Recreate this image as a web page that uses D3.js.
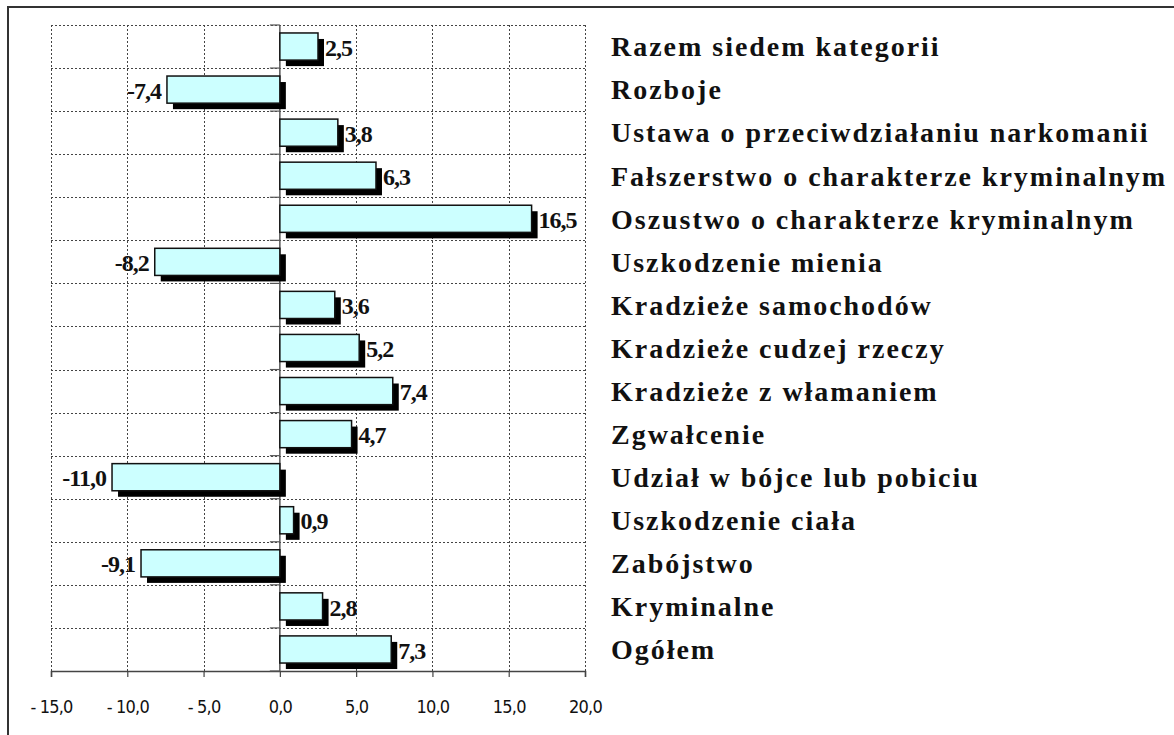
<!DOCTYPE html>
<html>
<head>
<meta charset="utf-8">
<script src="https://cdn.jsdelivr.net/npm/d3@7"></script>
<style>
  html, body { margin: 0; padding: 0; background: #fff; }
  svg { display: block; }
</style>
</head>
<body>
<svg id="chart" width="1174" height="735"></svg>
<script>
const categories = [
  "Razem siedem kategorii",
  "Rozboje",
  "Ustawa o przeciwdziałaniu narkomanii",
  "Fałszerstwo o charakterze kryminalnym",
  "Oszustwo o charakterze kryminalnym",
  "Uszkodzenie mienia",
  "Kradzieże samochodów",
  "Kradzieże cudzej rzeczy",
  "Kradzieże z włamaniem",
  "Zgwałcenie",
  "Udział w bójce lub pobiciu",
  "Uszkodzenie ciała",
  "Zabójstwo",
  "Kryminalne",
  "Ogółem"
];
const values = [2.5, -7.4, 3.8, 6.3, 16.5, -8.2, 3.6, 5.2, 7.4, 4.7, -11.0, 0.9, -9.1, 2.8, 7.3];
const xTicks = [-15, -10, -5, 0, 5, 10, 15, 20];

const svg = d3.select("#chart");
const pLeft = 51, pRight = 585, pTop = 25, pBottom = 671;

// outer border
svg.append("rect")
  .attr("x", 8).attr("y", 7)
  .attr("width", 1300).attr("height", 800)
  .attr("fill", "none").attr("stroke", "#333").attr("stroke-width", 2);

const x = d3.scaleLinear().domain([-15, 20]).range([pLeft, pRight]);
const y = d3.scaleBand().domain(categories).range([pTop, pBottom]).paddingInner(0.37).paddingOuter(0.185);
const yEdge = d3.scaleLinear().domain([0, categories.length]).range([pTop, pBottom]);

const fmt = v => {
  const s = Math.abs(v).toFixed(1).replace(".", ",");
  return v < 0 ? "-" + s : s;
};

// gridlines (dotted)
const grid = svg.append("g");
grid.selectAll("line.v").data(xTicks.filter(t => t !== 0)).join("line")
  .attr("x1", d => Math.round(x(d)) + 0.5).attr("x2", d => Math.round(x(d)) + 0.5)
  .attr("y1", pTop).attr("y2", pBottom)
  .attr("stroke", "#444").attr("stroke-width", 1).attr("stroke-dasharray", "2,2");
grid.selectAll("line.h").data(d3.range(0, categories.length)).join("line")
  .attr("x1", pLeft).attr("x2", pRight)
  .attr("y1", d => Math.round(yEdge(d)) + 0.5).attr("y2", d => Math.round(yEdge(d)) + 0.5)
  .attr("stroke", "#444").attr("stroke-width", 1).attr("stroke-dasharray", "2,2");

// x axis
const xAxis = d3.axisBottom(x).tickValues(xTicks).tickSize(6)
  .tickFormat(d => d < 0 ? "- " + Math.abs(d).toFixed(1).replace(".", ",") : d.toFixed(1).replace(".", ","));
const gx = svg.append("g").attr("transform", `translate(0,${pBottom})`).call(xAxis);
gx.select(".domain").attr("stroke", "#444").attr("stroke-width", 1.5);
gx.selectAll(".tick line").attr("stroke", "#444").attr("stroke-width", 1.2);
gx.selectAll(".tick text")
  .attr("y", 29)
  .attr("font-family", "'DejaVu Sans Condensed', 'DejaVu Sans', sans-serif")
  .attr("font-size", 18).attr("fill", "#111").attr("letter-spacing", -0.8);

// zero axis (category axis)
const zx = x(0);
svg.append("line").attr("x1", zx).attr("x2", zx).attr("y1", pTop).attr("y2", pBottom)
  .attr("stroke", "#555").attr("stroke-width", 1.5);
svg.append("g").selectAll("line").data(d3.range(0, categories.length + 1)).join("line")
  .attr("x1", zx - 10).attr("x2", zx)
  .attr("y1", d => yEdge(d)).attr("y2", d => yEdge(d))
  .attr("stroke", "#555").attr("stroke-width", 1.2);

// bars with shadow
const bars = svg.append("g");
const data = categories.map((c, i) => ({ c, v: values[i] }));
const sh = 6;
bars.selectAll("rect.shadow").data(data).join("rect")
  .attr("x", d => Math.min(x(0), x(d.v)) + sh)
  .attr("y", d => y(d.c) + sh)
  .attr("width", d => Math.abs(x(d.v) - x(0)))
  .attr("height", y.bandwidth())
  .attr("fill", "#000");
bars.selectAll("rect.bar").data(data).join("rect")
  .attr("x", d => Math.min(x(0), x(d.v)))
  .attr("y", d => y(d.c))
  .attr("width", d => Math.abs(x(d.v) - x(0)))
  .attr("height", y.bandwidth())
  .attr("fill", "#ccffff").attr("stroke", "#111").attr("stroke-width", 1.5);

// value labels
svg.append("g").selectAll("text").data(data).join("text")
  .attr("x", d => d.v >= 0 ? x(d.v) + sh + 1 : x(d.v) - 6)
  .attr("y", d => y(d.c) + y.bandwidth() / 2)
  .attr("dy", "0.38em")
  .attr("text-anchor", d => d.v >= 0 ? "start" : "end")
  .attr("font-family", "'Liberation Serif', serif")
  .attr("font-weight", "bold")
  .attr("font-size", 24)
  .attr("letter-spacing", -1)
  .attr("fill", "#111")
  .text(d => fmt(d.v));

// category labels on the right
const labs = svg.append("g").selectAll("text").data(categories).join("text")
  .attr("x", 611)
  .attr("y", d => yEdge(categories.indexOf(d)) + (yEdge(1) - yEdge(0)) / 2)
  .attr("dy", "0.35em")
  .attr("font-family", "'Liberation Serif', serif")
  .attr("font-weight", "bold")
  .attr("font-size", 28)
  .attr("fill", "#111")
  .text(d => d);

// widen letter spacing to match the reference width of the longest label
let maxW = 0, maxLen = 1;
labs.each(function(d) { const w = this.getComputedTextLength(); if (w > maxW) { maxW = w; maxLen = d.length; } });
const ls = Math.max(0, (556 - maxW) / maxLen);
labs.attr("letter-spacing", ls);
</script>
</body>
</html>
